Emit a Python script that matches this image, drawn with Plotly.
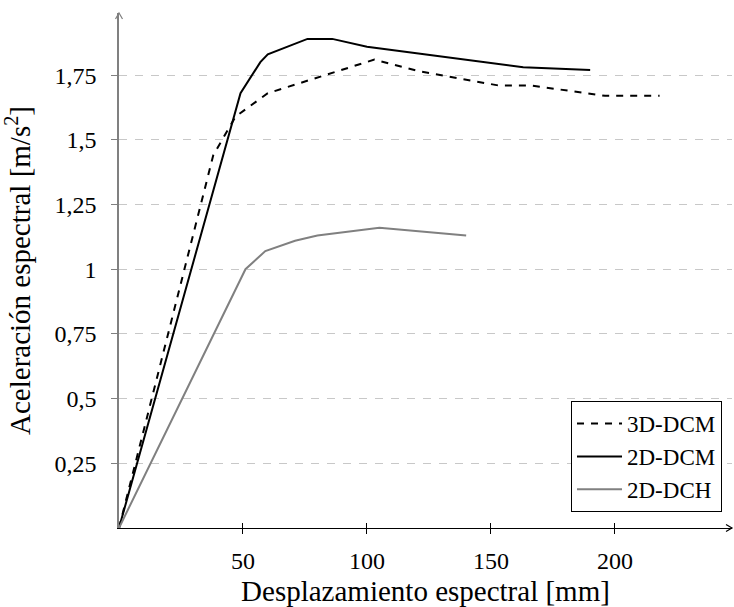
import plotly.graph_objects as go

# Capacity curves: spectral displacement [mm] vs spectral acceleration [m/s2]
disp_3d_dcm = [0, 38, 47, 60, 103, 121, 153, 166, 196, 218]
acc_3d_dcm = [0, 1.44, 1.59, 1.68, 1.81, 1.765, 1.71, 1.71, 1.67, 1.67]

disp_2d_dcm = [0, 49, 57, 60, 76, 86, 100, 163, 190]
acc_2d_dcm = [0, 1.68, 1.80, 1.83, 1.89, 1.89, 1.86, 1.78, 1.77]

disp_2d_dch = [0, 51, 59, 71, 80, 105, 140]
acc_2d_dch = [0, 1.00, 1.07, 1.11, 1.13, 1.16, 1.13]

x_ticks = [50, 100, 150, 200]
x_tick_text = ["50", "100", "150", "200"]
y_ticks = [0.25, 0.5, 0.75, 1.0, 1.25, 1.5, 1.75]
y_tick_text = ["0,25", "0,5", "0,75", "1", "1,25", "1,5", "1,75"]

FONT = "Liberation Serif"
FS = 24
GREY = "#808080"

fig = go.Figure()
fig.add_trace(go.Scatter(x=disp_3d_dcm, y=acc_3d_dcm, mode="lines", name="3D-DCM",
                         line=dict(color="black", width=2, dash="7px,7px")))
fig.add_trace(go.Scatter(x=disp_2d_dcm, y=acc_2d_dcm, mode="lines", name="2D-DCM",
                         line=dict(color="black", width=2)))
fig.add_trace(go.Scatter(x=disp_2d_dch, y=acc_2d_dch, mode="lines", name="2D-DCH",
                         line=dict(color=GREY, width=2)))

fig.update_layout(
    width=734, height=607,
    margin=dict(l=119, r=2, t=13, b=79),
    paper_bgcolor="white", plot_bgcolor="white",
    font=dict(family=FONT, size=FS, color="black"),
    showlegend=True,
    legend=dict(x=0.9837, y=0.031, xanchor="right", yanchor="bottom",
                bgcolor="white", bordercolor="black", borderwidth=1,
                font=dict(family=FONT, size=23), itemwidth=45),
    xaxis=dict(range=[0, 247.2], tickvals=x_ticks, ticktext=x_tick_text,
               showgrid=False, zeroline=False, showline=True,
               linecolor="black", linewidth=1.3,
               ticks="outside", ticklen=5, tickcolor="black", tickwidth=1,
               minor=dict(tickmode="array", tickvals=x_ticks, ticks="inside",
                          ticklen=5, tickcolor="black", tickwidth=1, showgrid=False),
               ticklabelstandoff=6,
               title=dict(text="Desplazamiento espectral [mm]", standoff=8),
               automargin=False),
    yaxis=dict(range=[0, 1.99], tickvals=y_ticks, ticktext=y_tick_text,
               showgrid=True, gridcolor="#c8c8c8", gridwidth=1, griddash="8px,8px",
               zeroline=False, showline=True, linecolor=GREY, linewidth=1.5,
               ticks="outside", ticklen=6, tickcolor=GREY, tickwidth=1,
               ticklabelstandoff=10,
               title=dict(text="Aceleración espectral [m/s<sup>2</sup>]", standoff=20),
               automargin=False),
)

# axis arrow tips
fig.add_shape(type="path", xref="paper", yref="paper",
              xsizemode="pixel", ysizemode="pixel", xanchor=1, yanchor=0,
              path="M -6,3.5 L 0,0 L -6,-3.5", line=dict(color="black", width=1.2))
fig.add_shape(type="path", xref="paper", yref="paper",
              xsizemode="pixel", ysizemode="pixel", xanchor=0, yanchor=1,
              path="M -3.5,-6 L 0,0 L 3.5,-6", line=dict(color=GREY, width=1.2))

fig.write_html("out.html")
